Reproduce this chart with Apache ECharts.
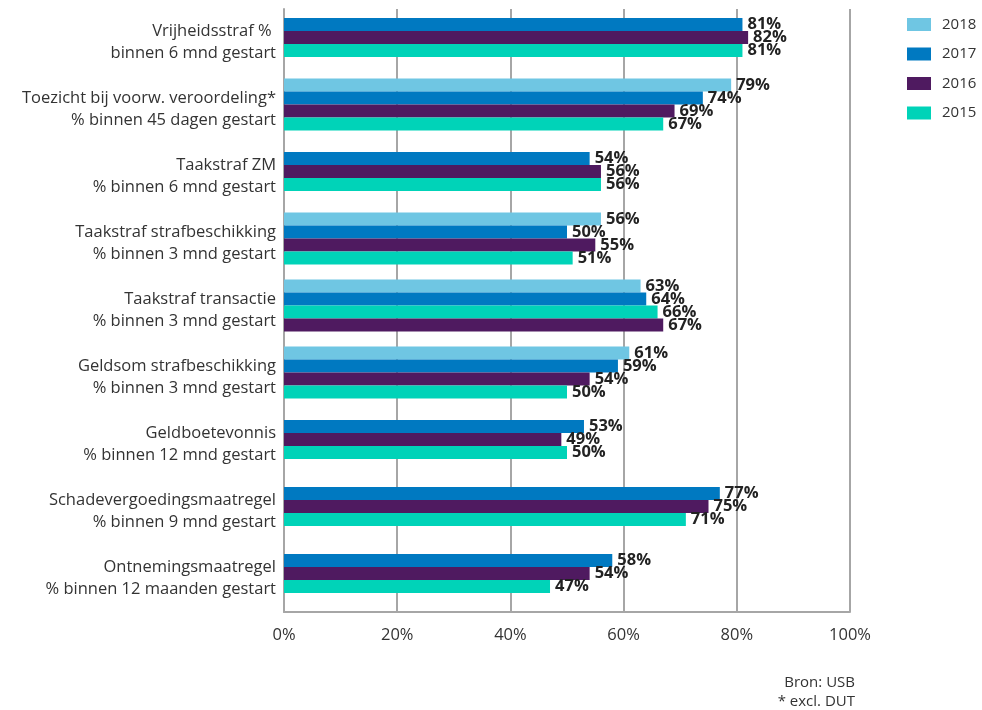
<!DOCTYPE html>
<html>
<head>
<meta charset="utf-8">
<script src="https://cdn.jsdelivr.net/npm/echarts@6/dist/echarts.min.js"></script>
<style>
html, body { margin: 0; padding: 0; background: #fff; }
#main { width: 982px; height: 710px; }
</style>
</head>
<body>
<div id="main"></div>
<script>
// categorieen (boven naar beneden)
var categories = [
	'Vrijheidsstraf % \nbinnen 6 mnd gestart',
	'Toezicht bij voorw. veroordeling*\n% binnen 45 dagen gestart',
	'Taakstraf ZM\n% binnen 6 mnd gestart',
	'Taakstraf strafbeschikking\n% binnen 3 mnd gestart',
	'Taakstraf transactie\n% binnen 3 mnd gestart',
	'Geldsom strafbeschikking\n% binnen 3 mnd gestart',
	'Geldboetevonnis\n% binnen 12 mnd gestart',
	'Schadevergoedingsmaatregel\n% binnen 9 mnd gestart',
	'Ontnemingsmaatregel\n% binnen 12 maanden gestart'
];
var years = ['2018', '2017', '2016', '2015'];
var y2018 = [null, 79, null, 56, 63, 61, null, null, null];
var y2017 = [81, 74, 54, 50, 64, 59, 53, 77, 58];
var y2016 = [82, 69, 56, 55, 67, 54, 49, 75, 54];
var y2015 = [81, 67, 56, 51, 66, 50, 50, 71, 47];
var xTicks = [0, 20, 40, 60, 80, 100];

var colors = ['#6fc6e3', '#0079c1', '#4f1a60', '#00d3b8'];
var values = [y2018, y2017, y2016, y2015];

// in de bron staan 2016 en 2015 bij "Taakstraf transactie" omgedraaid
var swapRow = 4;

var dom = document.getElementById('main');
var myChart = echarts.init(dom);

var font = 'Open Sans';

function barLabel() {
	return {
		show : true,
		position : 'right',
		distance : 5,
		formatter : '{c}%',
		fontFamily : font,
		fontWeight : 'bold',
		fontSize : 16.5,
		color : '#222'
	};
}

// rijen met 4 staven op as 1, rijen met 3 staven op as 2 (zodat groep gecentreerd is)
var series = [];
var full = y2018.map(function(v) { return v != null; });
for (var k = 0; k < 4; k++) {
	var dataFull = [], dataShort = [];
	for (var i = 0; i < categories.length; i++) {
		var kk = k;
		if (i == swapRow && (k == 2 || k == 3)) kk = (k == 2 ? 3 : 2);
		var v = values[kk][i];
		var item = (v == null) ? '-' : { value : v, itemStyle : { color : colors[kk] } };
		if (full[i]) {
			dataFull.push(item);
			dataShort.push('-');
		} else {
			dataFull.push('-');
			dataShort.push(item);
		}
	}
	series.push({
		name : years[k],
		type : 'bar',
		xAxisIndex : 1,
		yAxisIndex : 1,
		barWidth : 13,
		barGap : '0%',
		itemStyle : { color : colors[k] },
		label : barLabel(),
		animation : false,
		data : dataFull
	});
	if (k > 0) {
		series.push({
			name : years[k],
			type : 'bar',
			xAxisIndex : 1,
			yAxisIndex : 2,
			barWidth : 13,
			barGap : '0%',
			itemStyle : { color : colors[k] },
			label : barLabel(),
			animation : false,
			data : dataShort
		});
	}
}

var gridLine = { color : '#a6a6a6', width : 2 };

var option = {
	backgroundColor : '#fff',
	animation : false,
	textStyle : { fontFamily : font },
	legend : {
		data : years,
		orient : 'vertical',
		left : 902,
		top : 12,
		itemWidth : 24,
		itemHeight : 13,
		itemGap : 14.5,
		icon : 'rect',
		textStyle : { fontSize : 15, color : '#333', fontFamily : font, padding : [0, 0, 0, 6] }
	},
	grid : [
		{ left : 284, right : 132, top : 9, bottom : 98 },
		{ left : 284, right : 132, top : 4, bottom : 103 }
	],
	xAxis : [
		{
			gridIndex : 0,
			type : 'value',
			min : 0,
			max : 100,
			interval : 20,
			axisLine : { show : true, lineStyle : gridLine },
			axisTick : { show : false },
			splitLine : { show : true, lineStyle : gridLine },
			axisLabel : {
				formatter : '{value}%',
				fontSize : 16.5,
				color : '#333',
				margin : 15,
				fontFamily : font
			}
		},
		{ gridIndex : 1, type : 'value', min : 0, max : 100, show : false }
	],
	yAxis : [
		{
			gridIndex : 0,
			type : 'category',
			inverse : true,
			data : categories,
			axisLine : { show : true, lineStyle : gridLine },
			axisTick : { show : false },
			axisLabel : {
				fontSize : 16.5,
				lineHeight : 22,
				color : '#333',
				margin : 8,
				fontFamily : font
			}
		},
		{ gridIndex : 1, type : 'category', inverse : true, data : categories, show : false },
		{ gridIndex : 1, type : 'category', inverse : true, data : categories, show : false }
	],
	graphic : [
		{ type : 'text', right : 127, top : 675, style : { text : 'Bron: USB', font : '15px "Open Sans"', fill : '#333', textAlign : 'right' } },
		{ type : 'text', right : 127, top : 694, style : { text : '* excl. DUT', font : '15px "Open Sans"', fill : '#333', textAlign : 'right' } }
	],
	series : series
};

myChart.setOption(option, true);
</script>
</body>
</html>
